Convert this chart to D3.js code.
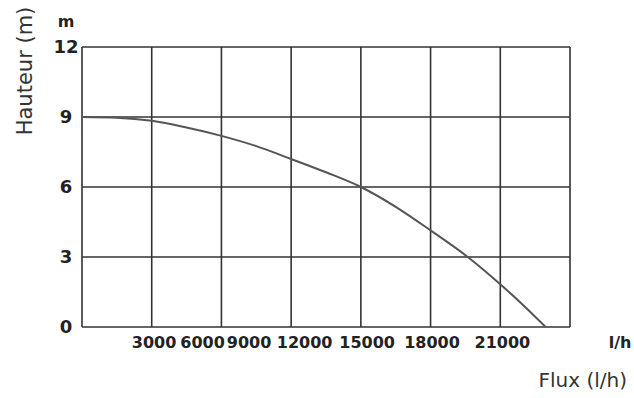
<!DOCTYPE html>
<html>
<head>
<meta charset="utf-8">
<script src="https://cdn.jsdelivr.net/npm/d3@7"></script>
<style>
  body { margin: 0; background: #fff; }
  svg { display: block; }
  .tick-lbl { font-family: "DejaVu Sans", sans-serif; font-weight: bold; fill: #222; }
  .title { font-family: "DejaVu Sans", sans-serif; fill: #333; }
</style>
</head>
<body>
<div id="chart"></div>
<script>
// flux (l/h) and head (m)
const flux = [0, 1500, 3000, 4500, 6000, 7500, 9000, 10500, 12000, 13500, 15000, 16600, 18000, 19000, 19950]
const head = [9.0, 8.97, 8.84, 8.55, 8.19, 7.75, 7.2, 6.63, 6.0, 5.15, 4.14, 3.0, 1.83, 0.92, 0]

const headTicks = [0, 3, 6, 9, 12]
const fluxGrid = [0, 3000, 6000, 9000, 12000, 15000, 18000, 21000]
const fluxLabels = ["3000", "6000", "9000", "12000", "15000", "18000", "21000"]
// where each label is printed on the flux scale in the source picture
const fluxLabelAt = [3100, 5190, 7190, 9580, 12270, 15060, 18090]

const W = 634, H = 398
const margin = {top: 47, right: 64, bottom: 71, left: 82}

const svg = d3.select("#chart").append("svg")
    .attr("width", W)
    .attr("height", H)

const x = d3.scaleLinear()
    .domain([0, 21000])
    .range([margin.left, W - margin.right])

const y = d3.scaleLinear()
    .domain([0, 12])
    .range([H - margin.bottom, margin.top])

const grid = svg.append("g")
    .attr("stroke", "#333")
    .attr("stroke-width", 1.6)

grid.selectAll("line.v")
    .data(fluxGrid)
    .enter()
    .append("line")
    .attr("x1", d => x(d))
    .attr("x2", d => x(d))
    .attr("y1", y(0))
    .attr("y2", y(12))

grid.selectAll("line.h")
    .data(headTicks)
    .enter()
    .append("line")
    .attr("x1", x(0))
    .attr("x2", x(21000))
    .attr("y1", d => y(d))
    .attr("y2", d => y(d))

//curve
const line = d3.line()
    .x(d => x(d[0]))
    .y(d => y(d[1]))
    .curve(d3.curveMonotoneX)

svg.append("path")
    .datum(flux.map((f, i) => [f, head[i]]))
    .attr("d", line)
    .attr("fill", "none")
    .attr("stroke", "#555")
    .attr("stroke-width", 2)

//y labels
svg.selectAll("text.ylbl")
    .data(headTicks)
    .enter()
    .append("text")
    .attr("class", "tick-lbl")
    .attr("x", 66)
    .attr("y", d => y(d))
    .attr("dy", "0.36em")
    .attr("text-anchor", "middle")
    .attr("font-size", 18)
    .text(d => d)

svg.append("text")
    .attr("class", "tick-lbl")
    .attr("x", 66)
    .attr("y", 27)
    .attr("text-anchor", "middle")
    .attr("font-size", 16)
    .text("m")

//x labels
svg.selectAll("text.xlbl")
    .data(fluxLabels)
    .enter()
    .append("text")
    .attr("class", "tick-lbl")
    .attr("x", (d, i) => x(fluxLabelAt[i]))
    .attr("y", 348)
    .attr("text-anchor", "middle")
    .attr("font-size", 16)
    .text(d => d)

svg.append("text")
    .attr("class", "tick-lbl")
    .attr("x", 620)
    .attr("y", 348)
    .attr("text-anchor", "middle")
    .attr("font-size", 16)
    .text("l/h")

svg.append("text")
    .attr("class", "title")
    .attr("x", 627)
    .attr("y", 387)
    .attr("text-anchor", "end")
    .attr("font-size", 20)
    .text("Flux (l/h)")

svg.append("text")
    .attr("class", "title")
    .attr("transform", "translate(32,71) rotate(-90)")
    .attr("text-anchor", "middle")
    .attr("font-size", 21)
    .text("Hauteur (m)")
</script>
</body>
</html>
